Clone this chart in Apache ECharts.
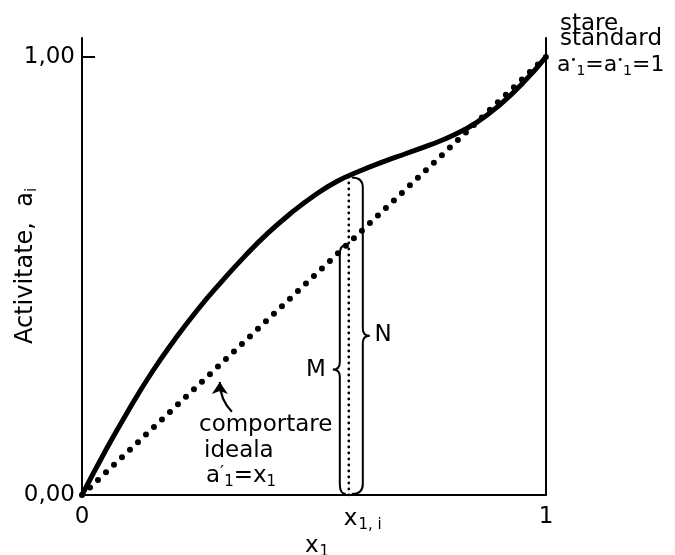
<!DOCTYPE html>
<html><head><meta charset="utf-8">
<script src="https://cdn.jsdelivr.net/npm/echarts@6/dist/echarts.min.js"></script>
<style>html,body{margin:0;padding:0;background:#fff}#c{width:675px;height:555px}</style>
</head><body><div id="c"></div>
<script>
// ---- data ----
const curveX = [0, 0.05, 0.1, 0.15, 0.2, 0.25, 0.3, 0.35, 0.4, 0.45, 0.5, 0.55, 0.6, 0.65, 0.7, 0.75, 0.8, 0.85, 0.9, 0.95, 1.0];
const curveY = [0, 0.100, 0.193, 0.279, 0.355, 0.424, 0.486, 0.544, 0.597, 0.643, 0.683, 0.716, 0.740, 0.761, 0.780, 0.799, 0.821, 0.850, 0.890, 0.940, 1.0];
const idealX = [0, 1];
const idealY = [0, 1];
const xi = 0.575;          // x_{1,i}
const xiCurveY = 0.729;    // activity on real curve at x_{1,i}
const xiIdealY = 0.575;    // ideal activity at x_{1,i}
const arrowFrom = [0.323, 0.190];
const arrowTo = [0.297, 0.258];
const yTickValues = [0, 1];
const yTickLabels = ['0,00', '1,00'];
const xTickValues = [0, xi, 1];
const xTickLabels = ['0', '{pad| }{x|x}{s|1, i}', '1'];

const FONT = 'DejaVu Sans';
const FS = 23;
const chart = echarts.init(document.getElementById('c'), null, {renderer: 'canvas'});
const yMax = 1.043;

function renderBrace(params, api) {
  const side = api.value(2);
  const pB = api.coord([api.value(0), 0]);
  const pT = api.coord([api.value(0), api.value(1)]);
  const x0 = pB[0];
  const d = side < 0 ? 9 : 14;
  const xb = x0 + side * d;
  const xe = x0 + side * 3;
  const t = 7, r = 10;
  const yB = pB[1] - 1, yT = pT[1] + 2, ym = (yB + yT) / 2;
  const p = `M${xe} ${yB} Q${xb} ${yB} ${xb} ${yB - r} L${xb} ${ym + 7} Q${xb} ${ym} ${xb + side * t} ${ym} ` +
            `Q${xb} ${ym} ${xb} ${ym - 7} L${xb} ${yT + r} Q${xb} ${yT} ${xe} ${yT}`;
  return {type: 'path', shape: {pathData: p}, style: {fill: 'none', stroke: '#000', lineWidth: 2}};
}

const option = {
  animation: false,
  backgroundColor: '#fff',
  textStyle: {fontFamily: FONT},
  grid: {left: 82, right: 129, top: 38, bottom: 60},
  xAxis: {
    type: 'value', min: 0, max: 1,
    axisLine: {lineStyle: {color: '#000', width: 2}},
    axisTick: {show: false},
    splitLine: {show: false},
    axisLabel: {
      customValues: xTickValues, margin: 11, color: '#000', fontSize: FS, fontFamily: FONT,
      formatter: v => xTickLabels[xTickValues.indexOf(v)],
      rich: {
        pad: {width: 28, fontSize: FS},
        x: {fontSize: FS, color: '#000', fontFamily: FONT},
        s: {fontSize: 15, color: '#000', fontFamily: FONT, verticalAlign: 'bottom', padding: [12, 0, 0, 1]}
      }
    }
  },
  yAxis: [{
    type: 'value', min: 0, max: yMax,
    axisLine: {show: true, lineStyle: {color: '#000', width: 2}},
    axisTick: {show: true, inside: true, length: 13, customValues: [1], lineStyle: {color: '#000', width: 2}},
    splitLine: {show: false},
    axisLabel: {
      customValues: yTickValues, margin: 7, color: '#000', fontSize: FS, fontFamily: FONT,
      formatter: v => yTickLabels[yTickValues.indexOf(v)]
    }
  }, {
    type: 'value', min: 0, max: yMax, position: 'right',
    axisLine: {show: true, lineStyle: {color: '#000', width: 2}},
    axisTick: {show: false}, axisLabel: {show: false}, splitLine: {show: false}
  }],
  series: [
    {
      type: 'line', data: curveX.map((x, i) => [x, curveY[i]]), smooth: 0.5,
      symbol: 'none', lineStyle: {color: '#000', width: 5}, z: 5
    },
    {
      type: 'line', data: idealX.map((x, i) => [x, idealY[i]]),
      symbol: 'none', lineStyle: {color: '#000', width: 6, type: [0, 11], cap: 'round'}, z: 4
    },
    {
      type: 'line', data: [[xi, 0], [xi, xiCurveY]],
      symbol: 'none', lineStyle: {color: '#000', width: 2.8, type: [0, 6], cap: 'round'}, z: 4
    },
    {
      type: 'custom', renderItem: renderBrace, clip: false,
      data: [[xi, xiIdealY, -1], [xi, xiCurveY, 1]], z: 6
    },
    {
      type: 'lines', coordinateSystem: 'cartesian2d',
      symbol: ['none', 'arrow'], symbolSize: 12,
      lineStyle: {color: '#000', width: 2.2, curveness: 0.2, opacity: 1},
      data: [{coords: [arrowFrom, arrowTo]}], z: 6
    }
  ],
  graphic: [
    {type: 'text', x: 26, y: 266, rotation: Math.PI / 2, style: {
      text: '{t|Activitate,  a}{s|i}', textAlign: 'center', textVerticalAlign: 'middle',
      rich: {t: {fontSize: 24, fontFamily: FONT, fill: '#000'}, s: {fontSize: 15, fontFamily: FONT, fill: '#000', padding: [12, 0, 0, 0]}}
    }},
    {type: 'text', x: 317, y: 546, style: {
      text: '{t|x}{s|1}', textAlign: 'center', textVerticalAlign: 'middle',
      rich: {t: {fontSize: FS, fontFamily: FONT, fill: '#000'}, s: {fontSize: 15, fontFamily: FONT, fill: '#000', padding: [12, 0, 0, 1]}}
    }},
    {type: 'text', x: 560, y: 24, style: {text: 'stare', fontSize: FS, fontFamily: FONT, fill: '#000', textVerticalAlign: 'middle'}},
    {type: 'text', x: 560, y: 39, style: {text: 'standard', fontSize: FS, fontFamily: FONT, fill: '#000', textVerticalAlign: 'middle'}},
    {type: 'text', x: 557, y: 65, style: {
      text: '{t|a}{p|•}{s|1}{t|=a}{p|•}{s|1}{t|=1}', textVerticalAlign: 'middle',
      rich: {t: {fontSize: 22, fontFamily: FONT, fill: '#000'},
             p: {fontSize: 10, fontFamily: FONT, fill: '#000', padding: [0, 0, 10, 0]},
             s: {fontSize: 14, fontFamily: FONT, fill: '#000', padding: [12, 0, 0, 0]}}
    }},
    {type: 'text', x: 199, y: 425, style: {text: 'comportare', fontSize: FS, fontFamily: FONT, fill: '#000', textVerticalAlign: 'middle'}},
    {type: 'text', x: 204, y: 451, style: {text: 'ideala', fontSize: FS, fontFamily: FONT, fill: '#000', textVerticalAlign: 'middle'}},
    {type: 'text', x: 206, y: 476, style: {
      text: '{t|a}{p|′}{s|1}{t|=x}{s|1}', textVerticalAlign: 'middle',
      rich: {t: {fontSize: FS, fontFamily: FONT, fill: '#000'},
             p: {fontSize: 18, fontFamily: FONT, fill: '#000', padding: [0, 0, 6, 0]},
             s: {fontSize: 15, fontFamily: FONT, fill: '#000', padding: [12, 0, 0, 0]}}
    }},
    {type: 'text', x: 316, y: 370, style: {text: 'M', fontSize: FS, fontFamily: FONT, fill: '#000', textAlign: 'center', textVerticalAlign: 'middle'}},
    {type: 'text', x: 383, y: 335, style: {text: 'N', fontSize: FS, fontFamily: FONT, fill: '#000', textAlign: 'center', textVerticalAlign: 'middle'}}
  ]
};
chart.setOption(option);
</script>
</body></html>
